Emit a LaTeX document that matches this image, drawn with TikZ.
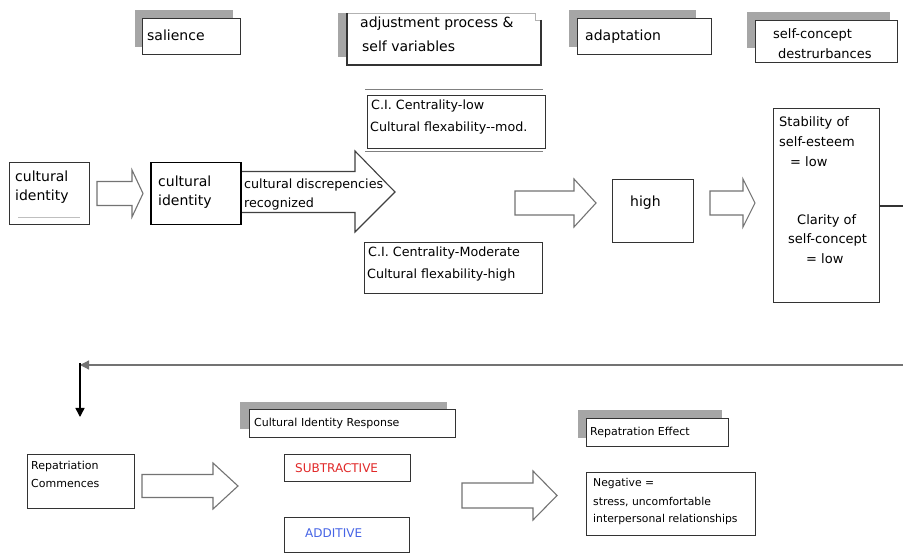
\documentclass[tikz,border=0pt]{standalone}
\usepackage{fontspec}
\setmainfont{DejaVu Sans}
\usetikzlibrary{arrows.meta}
\tikzset{
  boxn/.style={draw=black!80, line width=1.1pt, fill=white, inner sep=0pt, anchor=north west},
  shadown/.style={fill=black!35, draw=none},
  txt/.style={inner sep=0pt, anchor=west, font=\fontsize{14}{16}\selectfont},
  mtxt/.style={txt, font=\fontsize{12.7}{15}\selectfont},
  stxt/.style={txt, font=\fontsize{11}{13}\selectfont},
  arr/.style={draw=black!55, line width=1.1pt, fill=white, line join=miter},
}
\newcommand\blockarr[6]{%
  \draw[arr] (#1,{#4-#5}) -- (#3,{#4-#5}) -- (#3,{#4-#6}) -- (#2,#4) -- (#3,{#4+#6}) -- (#3,{#4+#5}) -- (#1,{#4+#5}) -- cycle;}
\begin{document}
\begin{tikzpicture}[x=1pt,y=-1pt]
\useasboundingbox[fill=white] (0,0) rectangle (903,553);

% ---- headers ----
\fill[shadown] (135,10) rectangle (233,47);
\node[boxn, minimum width=98pt, minimum height=36pt] (hsal) at (142,18) {};
\node[txt] (tsal) at (147,35) {salience};

\fill[shadown] (338,13) rectangle (500,57);
\node[boxn, draw=none, minimum width=194pt, minimum height=52pt] (hadj) at (347,13) {};
\draw[black!30, line width=0.8pt] (347,13) -- (535,13) -- (535,20) -- (541,20);
\draw[black!80, line width=1.1pt] (541,20) -- (541,65) -- (347,65) -- (347,13);
\node[txt] (tadj1) at (360,24) {adjustment process \&};
\node[txt] (tadj2) at (362,46) {self variables};

\fill[shadown] (569,10) rectangle (696,47);
\node[boxn, minimum width=134pt, minimum height=36pt] (hada) at (577,18) {};
\node[txt] (tada) at (585,37) {adaptation};

\fill[shadown] (747,12) rectangle (890,48);
\node[boxn, minimum width=142pt, minimum height=42pt] (hsc) at (755,20) {};
\node[txt, font=\fontsize{13}{15}\selectfont] (tsc1) at (773,35) {self-concept};
\node[txt, font=\fontsize{13}{15}\selectfont] (tsc2) at (778,54) {destrurbances};

% ---- row 1 ----
\node[boxn, minimum width=80pt, minimum height=62pt] (b1) at (9,162) {};
\draw[black!25, line width=0.8pt] (18,217) -- (80,217);
\node[txt] (tb1a) at (15,176) {cultural};
\node[txt] (tb1b) at (15,197) {identity};

\blockarr{97}{143}{132}{193.5}{12}{23.5}

\draw[arr, draw=black!75] (240,171.5) -- (355,171.5) -- (355,151) -- (395,192) -- (355,232) -- (355,212.5) -- (240,212.5) -- cycle;

\node[boxn, draw=black, line width=1.5pt, minimum width=90pt, minimum height=62pt] (b2) at (150,162) {};
\node[txt] (tb2a) at (158,181) {cultural};
\node[txt] (tb2b) at (158,202) {identity};
\node[mtxt] (tdis1) at (244,185) {cultural discrepencies};
\node[mtxt] (tdis2) at (244,204) {recognized};

\draw[black!50, line width=1pt] (365,90) -- (543,90);
\draw[black!50, line width=1pt] (365,152) -- (543,152);
\node[boxn, minimum width=178pt, minimum height=53pt] (ci1) at (367,95) {};
\node[mtxt] (tci1a) at (371,106) {C.I. Centrality-low};
\node[mtxt] (tci1b) at (370,128) {Cultural flexability-{}-mod.};

\node[boxn, minimum width=178pt, minimum height=51pt] (ci2) at (364,242) {};
\node[mtxt] (tci2a) at (368,253) {C.I. Centrality-Moderate};
\node[mtxt] (tci2b) at (367,275) {Cultural flexability-high};

\blockarr{515}{596}{574}{203}{12}{24}

\node[boxn, minimum width=81pt, minimum height=63pt] (hi) at (612,179) {};
\node[txt] (thi) at (630,203) {high};

\blockarr{710}{755}{743}{203}{12}{24}

\node[boxn, minimum width=106pt, minimum height=194pt] (st) at (773,108) {};
\node[txt, font=\fontsize{13}{15}\selectfont] (tst1) at (779,123) {Stability of};
\node[txt, font=\fontsize{13}{15}\selectfont] (tst2) at (779,142) {self-esteem};
\node[txt, font=\fontsize{13}{15}\selectfont] (tst3) at (790,162) {= low};
\node[txt, font=\fontsize{13}{15}\selectfont] (tst4) at (797,221) {Clarity of};
\node[txt, font=\fontsize{13}{15}\selectfont] (tst5) at (788,240) {self-concept};
\node[txt, font=\fontsize{13}{15}\selectfont] (tst6) at (806,259) {= low};

\coordinate (re) at (903,206);
\draw[black!80, line width=1.1pt] (st.east |- re) -- (re);

% ---- return connector ----
\coordinate (rr) at (903,365);
\coordinate (rl) at (80,365);
\coordinate (rt) at (80,363);
\coordinate (rd) at (80,417);
\draw[black!55, line width=1.2pt, -{Triangle[length=9pt,width=9pt]}] (rr) -- (rl);
\draw[black, line width=1.5pt, -{Triangle[length=9pt,width=9pt]}] (rt) -- (rd);

% ---- bottom row ----
\node[boxn, minimum width=107pt, minimum height=54pt] (rep) at (27,454) {};
\node[stxt] (trep1) at (31,466) {Repatriation};
\node[stxt] (trep2) at (31,483) {Commences};

\blockarr{142}{238}{213}{486}{11.5}{23}

\fill[shadown] (240,402) rectangle (447,429);
\node[boxn, minimum width=206pt, minimum height=28pt] (cir) at (249,409) {};
\node[stxt] (tcir) at (254,423) {Cultural Identity Response};

\node[boxn, minimum width=126pt, minimum height=27pt] (sub) at (284,454) {};
\node[stxt, text={rgb,255:red,225;green,40;blue,40}, font=\fontsize{12}{14}\selectfont] (tsub) at (295,468) {SUBTRACTIVE};

\node[boxn, minimum width=125pt, minimum height=35pt] (add) at (284,517) {};
\node[stxt, text={rgb,255:red,70;green,100;blue,230}, font=\fontsize{12}{14}\selectfont] (tadd) at (305,533) {ADDITIVE};

\blockarr{462}{557}{533}{495.5}{12.5}{24.5}

\fill[shadown] (578,410) rectangle (722,438);
\node[boxn, minimum width=142pt, minimum height=28pt] (ref) at (586,418) {};
\node[stxt] (tref) at (590,432) {Repatration Effect};

\node[boxn, minimum width=169pt, minimum height=63pt] (neg) at (586,472) {};
\node[stxt, font=\fontsize{10.8}{13}\selectfont] (tneg1) at (593,484) {Negative =};
\node[stxt, font=\fontsize{10.8}{13}\selectfont] (tneg2) at (593,502) {stress, uncomfortable};
\node[stxt, font=\fontsize{10.8}{13}\selectfont] (tneg3) at (593,520) {interpersonal relationships};
\end{tikzpicture}
\end{document}
